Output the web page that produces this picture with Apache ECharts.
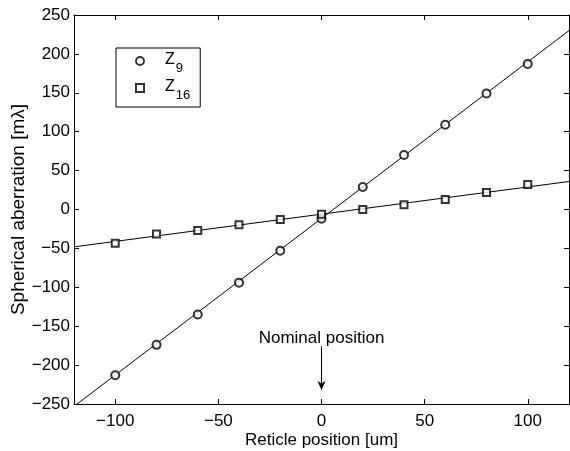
<!DOCTYPE html>
<html>
<head>
<meta charset="utf-8">
<script src="https://cdn.jsdelivr.net/npm/echarts@6/dist/echarts.min.js"></script>
<style>
  html, body { margin: 0; padding: 0; background: #fff; }
  #chart { width: 570px; height: 451px; }
</style>
</head>
<body>
<div id="chart"></div>
<script>
// reticle positions (um) of the measured points
const positions = [-100, -80, -60, -40, -20, 0, 20, 40, 60, 80, 100];
// measured spherical aberration (m-lambda)
const z9 = [-213, -174, -135, -94, -53, -12, 29, 70, 109, 149, 187];
const z16 = [-43.5, -31.5, -27, -19.5, -13, -6, 0, 6, 13, 22, 32];
// fitted lines, read at the edges of the axes
const fitX = [-120, 120];
const z9Fit = [-253, 230];
const z16Fit = [-48, 36];
const xTicks = [-100, -50, 0, 50, 100];
// "Nominal position" arrow
const nominalX = 0;
const arrowFrom = -176;
const arrowTo = -232;

const font = 'Liberation Sans, Arial, Helvetica, sans-serif';
const minus = v => String(v).replace('-', '\u2212');
const pairs = (xs, ys) => xs.map((x, i) => [x, ys[i]]);

const chart = echarts.init(document.getElementById('chart'));

const axisCommon = {
  axisLine: { onZero: false, lineStyle: { color: '#000', width: 1 } },
  axisTick: { inside: true, length: 5, lineStyle: { color: '#000' } },
  splitLine: { show: false }
};

chart.setOption({
  animation: false,
  textStyle: { fontFamily: font },
  grid: { left: 74, right: 1, top: 15, bottom: 47, outerBoundsMode: 'none', containLabel: false },
  legend: {
    orient: 'vertical',
    left: 116,
    top: 48,
    padding: [4, 10, 5, 19],
    itemGap: 4,
    itemWidth: 8,
    itemHeight: 8,
    borderColor: '#000',
    borderWidth: 1,
    selectedMode: false,
    data: ['9', '16'],
    formatter: name => `{z|Z}{s|${name}}`,
    textStyle: {
      rich: {
        z: { fontSize: 16, lineHeight: 18, verticalAlign: 'top', color: '#000', padding: [0, 0, 0, 16] },
        s: { fontSize: 13, lineHeight: 13, verticalAlign: 'top', color: '#000', padding: [10, 0, 0, 1] }
      }
    }
  },
  xAxis: [
    Object.assign({}, axisCommon, {
      type: 'value', min: -120, max: 120,
      name: 'Reticle position [um]', nameLocation: 'middle', nameGap: 28, nameMoveOverlap: false,
      nameTextStyle: { fontSize: 17, color: '#000' },
      axisTick: Object.assign({}, axisCommon.axisTick, { customValues: xTicks }),
      axisLabel: { customValues: xTicks, fontSize: 17, color: '#000', margin: 9, formatter: minus }
    }),
    Object.assign({}, axisCommon, {
      type: 'value', min: -120, max: 120, position: 'top',
      axisTick: Object.assign({}, axisCommon.axisTick, { customValues: xTicks }),
      axisLabel: { show: false }
    })
  ],
  yAxis: [
    Object.assign({}, axisCommon, {
      type: 'value', min: -250, max: 250, interval: 50,
      name: 'Spherical aberration [m\u03bb]', nameLocation: 'middle', nameGap: 46, nameMoveOverlap: false,
      nameTextStyle: { fontSize: 19, color: '#000' },
      axisLabel: { fontSize: 17, color: '#000', margin: 4, formatter: minus }
    }),
    Object.assign({}, axisCommon, {
      type: 'value', min: -250, max: 250, interval: 50, position: 'right',
      axisLabel: { show: false }
    })
  ],
  series: [
    {
      name: '9', type: 'scatter', symbol: 'emptyCircle', symbolSize: 8,
      itemStyle: { color: '#000', borderWidth: 1 },
      data: pairs(positions, z9), z: 3
    },
    {
      name: '16', type: 'scatter', symbol: 'emptyRect', symbolSize: 7,
      itemStyle: { color: '#000', borderWidth: 1 },
      data: pairs(positions, z16), z: 3
    },
    {
      type: 'line', showSymbol: false, silent: true,
      lineStyle: { color: '#000', width: 1 },
      data: pairs(fitX, z9Fit)
    },
    {
      type: 'line', showSymbol: false, silent: true,
      lineStyle: { color: '#000', width: 1 },
      data: pairs(fitX, z16Fit),
      markLine: {
        silent: true,
        symbol: ['none', 'arrow'],
        symbolSize: [6, 9],
        lineStyle: { color: '#000', width: 1, type: 'solid' },
        label: {
          position: 'start', formatter: 'Nominal position',
          fontSize: 17, color: '#000', distance: 0
        },
        data: [[{ coord: [nominalX, arrowFrom] }, { coord: [nominalX, arrowTo] }]]
      }
    }
  ]
});
</script>
</body>
</html>
